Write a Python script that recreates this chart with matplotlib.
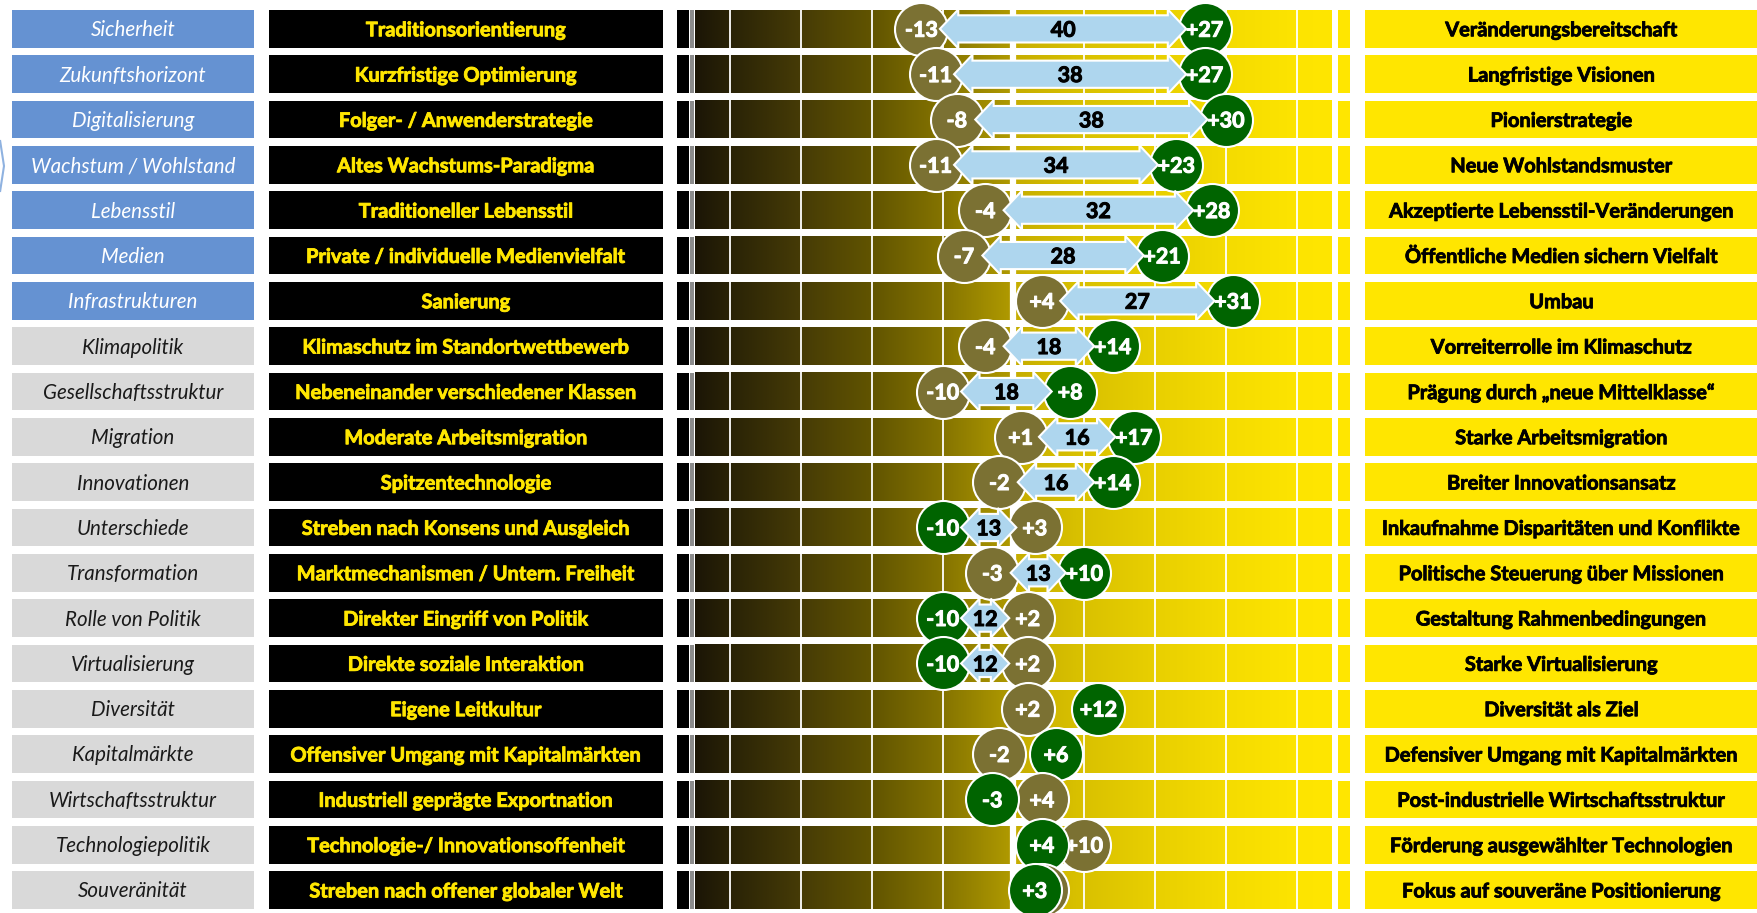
import numpy as np
import matplotlib.pyplot as plt
import matplotlib.patheffects as pe
from matplotlib.colors import LinearSegmentedColormap
from matplotlib.patches import Polygon

plt.rcParams["font.family"] = ["Lato", "DejaVu Sans"]

dimensions = [
    "Sicherheit", "Zukunftshorizont", "Digitalisierung", "Wachstum / Wohlstand",
    "Lebensstil", "Medien", "Infrastrukturen", "Klimapolitik",
    "Gesellschaftsstruktur", "Migration", "Innovationen", "Unterschiede",
    "Transformation", "Rolle von Politik", "Virtualisierung", "Diversität",
    "Kapitalmärkte", "Wirtschaftsstruktur", "Technologiepolitik", "Souveränität",
]
n_highlighted = 7

left_poles = [
    "Traditionsorientierung", "Kurzfristige Optimierung",
    "Folger- / Anwenderstrategie", "Altes Wachstums-Paradigma",
    "Traditioneller Lebensstil", "Private / individuelle Medienvielfalt",
    "Sanierung", "Klimaschutz im Standortwettbewerb",
    "Nebeneinander verschiedener Klassen", "Moderate Arbeitsmigration",
    "Spitzentechnologie", "Streben nach Konsens und Ausgleich",
    "Marktmechanismen / Untern. Freiheit", "Direkter Eingriff von Politik",
    "Direkte soziale Interaktion", "Eigene Leitkultur",
    "Offensiver Umgang mit Kapitalmärkten", "Industriell geprägte Exportnation",
    "Technologie-/ Innovationsoffenheit", "Streben nach offener globaler Welt",
]

right_poles = [
    "Veränderungsbereitschaft", "Langfristige Visionen", "Pionierstrategie",
    "Neue Wohlstandsmuster", "Akzeptierte Lebensstil-Veränderungen",
    "Öffentliche Medien sichern Vielfalt", "Umbau",
    "Vorreiterrolle im Klimaschutz", "Prägung durch „neue Mittelklasse“",
    "Starke Arbeitsmigration", "Breiter Innovationsansatz",
    "Inkaufnahme Disparitäten und Konflikte",
    "Politische Steuerung über Missionen", "Gestaltung Rahmenbedingungen",
    "Starke Virtualisierung", "Diversität als Ziel",
    "Defensiver Umgang mit Kapitalmärkten",
    "Post-industrielle Wirtschaftsstruktur",
    "Förderung ausgewählter Technologien", "Fokus auf souveräne Positionierung",
]

olive_vals = [-13, -11, -8, -11, -4, -7, 4, -4, -10, 1, -2, 3, -3, 2, 2, 2, -2, 4, 10, 4]
green_vals = [27, 27, 30, 23, 28, 21, 31, 14, 8, 17, 14, -10, 10, -10, -10, 12, 6, -3, 4, 3]

# colours
BLUE = "#6592d2"
GREY = "#d9d9d9"
YELLOW = "#ffe600"
OLIVE = "#7b7133"
GREEN = "#006400"
ARROW = "#aed6ee"


def heavy(color, w=0.6):
    # thicken Lato Bold a little so it reads like the original heavier face
    return [pe.withStroke(linewidth=w, foreground=color)]


W, H = 1758, 913
fig = plt.figure(figsize=(W / 100, H / 100), dpi=100)

n = len(dimensions)
rows = np.arange(n)
bar_h = 0.834
top_px, bot_px = 10, 909


def add_col(x0, x1):
    ax = fig.add_axes([x0 / W, 1 - bot_px / H, (x1 - x0) / W, (bot_px - top_px) / H])
    ax.set_ylim(n - 1 + bar_h / 2, -bar_h / 2)
    ax.set_xlim(0, 1)
    ax.axis("off")
    return ax


# left: dimension names
ax_dim = add_col(12, 254)
dim_colors = [BLUE if i < n_highlighted else GREY for i in rows]
ax_dim.barh(rows, 1, height=bar_h, color=dim_colors)
for i, name in enumerate(dimensions):
    ax_dim.text(0.5, i + 0.03, name, ha="center", va="center", style="italic",
                fontsize=14.8, color="white" if i < n_highlighted else "#1a1a1a")

# black pole boxes
ax_lp = add_col(269, 663)
ax_lp.barh(rows, 1, height=bar_h, color="black")
for i, name in enumerate(left_poles):
    ax_lp.text(0.5, i + 0.03, name, ha="center", va="center", fontweight="bold",
               fontsize=14.4, color=YELLOW, path_effects=heavy(YELLOW))

# yellow pole boxes
ax_rp = add_col(1365, 1758)
ax_rp.barh(rows, 1, height=bar_h, color=YELLOW)
for i, name in enumerate(right_poles):
    ax_rp.text(0.5, i + 0.03, name, ha="center", va="center", fontweight="bold",
               fontsize=14.4, color="black", path_effects=heavy("black"))

# centre scale
ax = add_col(695, 1332)
ax.set_xlim(-45, 45)
cmap = LinearSegmentedColormap.from_list("band", [
    (0.0, "#1c1606"), (0.055, "#2a2306"), (0.165, "#463b06"),
    (0.28, "#625500"), (0.39, "#857400"), (0.497, "#b09a00"),
    (0.503, "#c6ad00"), (0.6, "#d8c000"), (0.72, "#e8cf00"),
    (0.84, "#f5dc00"), (0.945, "#fde400"), (1.0, "#ffe600"),
])
grad = np.linspace(0, 1, 512).reshape(1, -1)
for i in rows:
    ax.imshow(grad, cmap=cmap, aspect="auto", interpolation="bilinear",
              extent=[-45, 45, i + bar_h / 2, i - bar_h / 2], zorder=1)
for g in range(-40, 50, 10):
    ax.axvline(g, color="white", lw=4.5 if g == 0 else 1.3, zorder=2)

# small end bars
ax.barh(rows, 1.7, left=-47.55, height=bar_h, color="black", clip_on=False)
ax.barh(rows, 0.55, left=-45.65, height=bar_h, color="#8c8c8c", clip_on=False)
ax.barh(rows, 1.7, left=45.8, height=bar_h, color=YELLOW, clip_on=False)
ax.set_xlim(-45, 45)
ax.set_ylim(n - 1 + bar_h / 2, -bar_h / 2)

# circles and arrows
circle_s = (53 * 0.72) ** 2
off, head, shaft, hh = 2.6, 2.6, 0.3, 0.43
for i in rows:
    o, g = olive_vals[i], green_vals[i]
    z = 10 + 5 * i
    ax.scatter([o], [i], s=circle_s, color=OLIVE, edgecolor="white", lw=1.5,
               zorder=z, clip_on=False)
    # the olive label is hidden when the green circle sits almost on top of it
    if abs(g - o) >= 3:
        ax.text(o, i + 0.03, f"{o:+d}", ha="center", va="center", color="white",
                fontweight="bold", fontsize=15.5, zorder=z + 0.5,
                path_effects=heavy("white", 0.7))
    ax.scatter([g], [i], s=circle_s, color=GREEN, edgecolor="white", lw=1.5,
               zorder=z + 1, clip_on=False)
    ax.text(g, i + 0.03, f"{g:+d}", ha="center", va="center", color="white",
            fontweight="bold", fontsize=15.5, zorder=z + 1.5,
            path_effects=heavy("white", 0.7))
    spread = abs(g - o)
    if spread > 10:
        xl, xr = min(o, g) + off, max(o, g) - off
        verts = [(xl, i), (xl + head, i - hh), (xl + head, i - shaft),
                 (xr - head, i - shaft), (xr - head, i - hh), (xr, i),
                 (xr - head, i + hh), (xr - head, i + shaft),
                 (xl + head, i + shaft), (xl + head, i + hh)]
        ax.add_patch(Polygon(verts, closed=True, facecolor=ARROW,
                             edgecolor="white", lw=1.5, zorder=z + 2,
                             clip_on=False))
        ax.text((o + g) / 2, i + 0.03, str(spread), ha="center", va="center",
                color="black", fontweight="bold", fontsize=15.5, zorder=z + 3,
                path_effects=heavy("black", 0.7))

# cropped chevron at the left edge
fig.add_artist(Polygon([(0, 1 - 140 / H), (4 / W, 1 - 166 / H), (0, 1 - 192 / H)],
                       closed=False, fill=False, edgecolor="#8fb2e0", lw=1.5,
                       transform=fig.transFigure))

fig.savefig("out.png", dpi=100)
